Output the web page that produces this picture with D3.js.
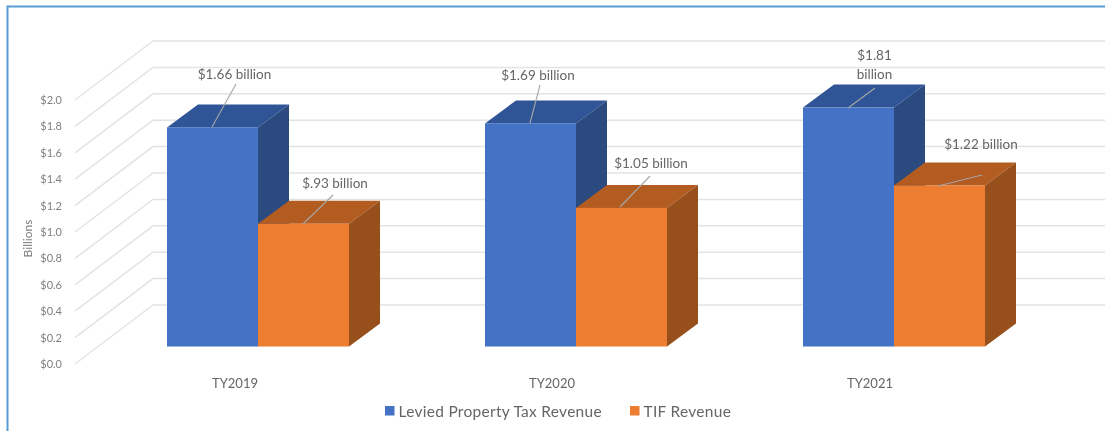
<!DOCTYPE html>
<html><head><meta charset="utf-8">
<script src="https://cdnjs.cloudflare.com/ajax/libs/d3/7.8.5/d3.min.js"></script>
<style>html,body{margin:0;padding:0;background:#fff;overflow:hidden}svg{display:block;filter:blur(0.35px)}text{font-family:Lato,"Open Sans",sans-serif}</style>
</head><body><svg id="c" width="1105" height="431"></svg>
<script>
const categories = ["TY2019","TY2020","TY2021"];
const seriesNames = ["Levied Property Tax Revenue","TIF Revenue"];
const leviedValues = [1.66,1.69,1.81];
const tifValues = [0.93,1.05,1.22];
const leviedLabels = [["$1.66 billion"],["$1.69 billion"],["$1.81","billion"]];
const tifLabels = [["$.93 billion"],["$1.05 billion"],["$1.22 billion"]];
const yTicks = [0,0.2,0.4,0.6,0.8,1.0,1.2,1.4,1.6,1.8,2.0];

const svg = d3.select("#c");
// frame
svg.append("path").attr("d","M7.5,431V6.5H1105").attr("fill","none").attr("stroke","#5b9bd5").attr("stroke-width",2);

const y = d3.scaleLinear().domain([0,2]).range([346.5,82.5]);
const x0 = d3.scaleBand().domain(categories).range([167,1121]).paddingInner(0).paddingOuter(0);
const barW = 91;
const dx = 31, dy = -23;
const backDx = 78, backDy = -59;

// grid
const grid = svg.append("g").attr("fill","none").attr("stroke","#e3e3e3").attr("stroke-width",1.5);
yTicks.forEach(t=>{
  const yf = y(t)+17.5;
  grid.append("path").attr("d",`M75,${yf}L153,${yf+backDy}H1105`);
});
// y labels
svg.append("g").selectAll("text").data(yTicks).join("text")
  .attr("x",62).attr("y",d=>y(d)+17.5+4).attr("text-anchor","end")
  .attr("font-size",11).attr("fill","#808080").text(d=>"$"+d.toFixed(1));
svg.append("text").attr("transform","translate(32,238.5) rotate(-90)").attr("text-anchor","middle")
  .attr("font-size",12).attr("fill","#808080").text("Billions");

const colors = [{f:"#4472c4",t:"#2f5597",s:"#2a4a80"},{f:"#ed7d31",t:"#b35c21",s:"#974f1b"}];
function bar(g,xl,v,c){
  const yt=y(v), yb=y(0), xr=xl+barW;
  g.append("path").attr("d",`M${xl},${yt}l${dx},${dy}H${xr+dx}L${xr},${yt}Z`).attr("fill",c.t);
  g.append("path").attr("d",`M${xr},${yt}l${dx},${dy}V${yb+dy}L${xr},${yb}Z`).attr("fill",c.s);
  g.append("rect").attr("x",xl).attr("y",yt).attr("width",barW).attr("height",yb-yt).attr("fill",c.f);
}
const bars = svg.append("g");
categories.forEach((cat,i)=>{
  const g=bars.append("g"), xl=x0(cat);
  bar(g,xl,leviedValues[i],colors[0]);
  bar(g,xl+barW,tifValues[i],colors[1]);
});

// data labels and leaders
const leaders = [
 [[212,127,236,84],[303,224,333,195]],
 [[530,123,540,85],[620,207,650,176]],
 [[848,108,875,88],[938,186,982,175]]
];
const labelPos = [
 [[234.5,79],[335,188]],
 [[538,80],[651,168]],
 [[874.5,60],[981,149]]
];
const lab = svg.append("g");
categories.forEach((cat,i)=>{
  [leviedLabels[i],tifLabels[i]].forEach((lines,j)=>{
    const l=leaders[i][j], p=labelPos[i][j];
    lab.append("line").attr("x1",l[0]).attr("y1",l[1]).attr("x2",l[2]).attr("y2",l[3]).attr("stroke","#a6a6a6").attr("stroke-width",1.1);
    lines.forEach((s,k)=>lab.append("text").attr("x",p[0]).attr("y",p[1]+k*18.5).attr("text-anchor","middle")
      .attr("font-size",13.5).attr("fill","#666").text(s));
  });
});
// category labels
const catX = [235,552,870];
svg.append("g").selectAll("text").data(categories).join("text")
  .attr("x",(d,i)=>catX[i]).attr("y",388).attr("text-anchor","middle")
  .attr("font-size",13).attr("fill","#666").text(d=>d);
// legend
const leg = [[385,399,seriesNames[0],colors[0].f],[630,644,seriesNames[1],colors[1].f]];
const lg = svg.append("g");
leg.forEach(a=>{
  lg.append("rect").attr("x",a[0]).attr("y",406).attr("width",9.5).attr("height",9.5).attr("fill",a[3]);
  lg.append("text").attr("x",a[1]-0.5).attr("y",416.5).attr("font-size",15.5).attr("letter-spacing",0.28).attr("fill","#666").text(a[2]);
});
</script></body></html>
